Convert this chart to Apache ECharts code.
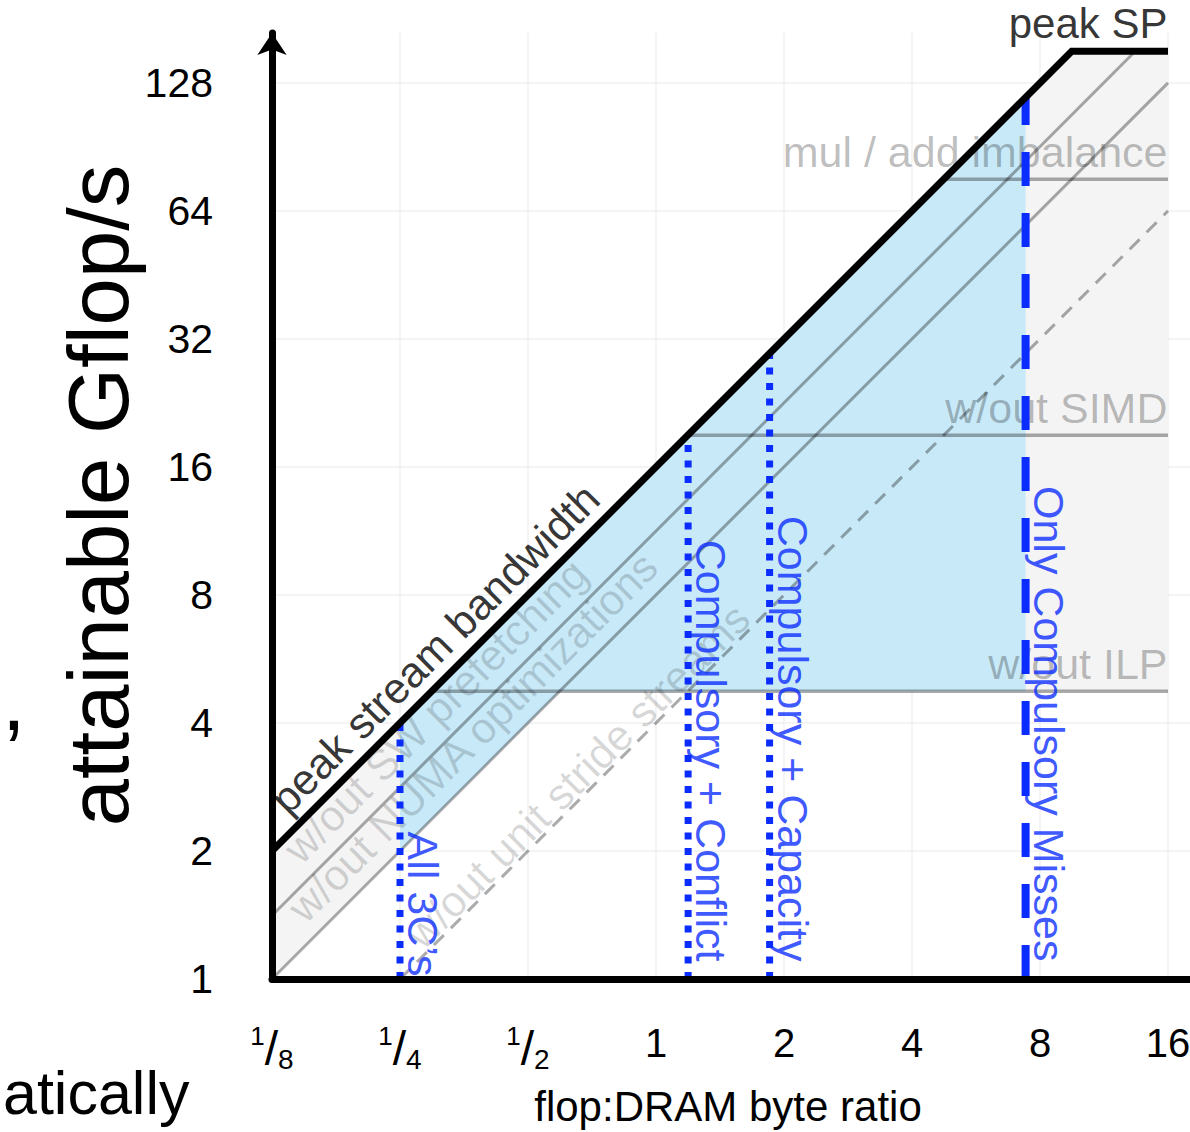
<!DOCTYPE html>
<html>
<head>
<meta charset="utf-8">
<title>Roofline with 3C ceilings</title>
<script src="https://cdn.jsdelivr.net/npm/echarts@6/dist/echarts.min.js"></script>
<style>
  html, body { margin: 0; padding: 0; background: #fff; }
  #chart { width: 1190px; height: 1132px; }
</style>
</head>
<body>
<div id="chart"></div>
<script>
// values (both axes are log2)
const xTicks = [1 / 8, 1 / 4, 1 / 2, 1, 2, 4, 8, 16];
const yTicks = [1, 2, 4, 8, 16, 32, 64, 128];

// the roof: peak stream bandwidth, then peak SP
const roofX = [0.125, 9.5, 16];
const roofY = [2, 152, 152];

// in-core ceilings (horizontal)
const ceilNames = ['mul / add imbalance', 'w/out SIMD', 'w/out ILP'];
const ceilStartX = [4.75, 1.19, 0.297];
const ceilY = [76, 19, 4.75];

// bandwidth ceilings (diagonal)
const bwNames = ['w/out SW prefetching', 'w/out NUMA optimizations', 'w/out unit stride streams'];
const bwStartX = [0.125, 0.125, 0.25];
const bwStartY = [1.41, 1, 1];
const bwEndX = [13.4, 16, 16];
const bwEndY = [152, 128, 64];

// arithmetic intensity once each kind of miss is counted
const missNames = ['All 3C\u2019s', 'Compulsory + Conflict', 'Compulsory + Capacity', 'Only Compulsory Misses'];
const missX = [0.25, 1.19, 1.85, 7.4];
const missTop = [4, 19, 29.6, 118];

// shaded regions
const grayX = [0.125, 9.5, 16, 16, 0.594, 0.125];
const grayY = [2, 152, 152, 4.75, 4.75, 1];
const blueX = [0.25, 7.4, 7.4, 0.594, 0.25];
const blueY = [4, 118, 4.75, 4.75, 2];

const FONT = '"Liberation Sans", Arial, Helvetica, sans-serif';
const BLUE = '#0a2cff';
const CEIL = 'rgba(0,0,0,0.33)';
const FAINT = 'rgba(0,0,0,0.19)';

// visible extent of the axes (arrow tip / right edge of the page)
const xMin = 0.125, xMax = Math.pow(2, 4.25);
const yMin = 1, yMax = Math.pow(2, 7.39);

function isTick(v, list) {
    const k = Math.log2(v);
    const r = Math.round(k);
    return Math.abs(k - r) < 1e-6 && list.indexOf(Math.pow(2, r)) >= 0;
}

function xLabel(v) {
    if (!isTick(v, xTicks)) return '';
    const r = Math.round(Math.log2(v));
    if (r < 0) return '{n|1}{s|/}{d|' + Math.pow(2, -r) + '}';
    return String(Math.pow(2, r));
}

function yLabel(v) {
    if (!isTick(v, yTicks)) return '';
    return String(Math.round(v));
}

function pairs(xs, ys) {
    return xs.map(function (x, i) { return [x, ys[i]]; });
}

function region(xs, ys, color) {
    const pts = pairs(xs, ys);
    return {
        type: 'custom',
        data: pts,
        encode: { x: 0, y: 1 },
        z: 1,
        silent: true,
        renderItem: function (params, api) {
            if (params.dataIndex !== 0) return null;
            return {
                type: 'polygon',
                shape: { points: pts.map(function (p) { return api.coord(p); }) },
                style: { fill: color }
            };
        }
    };
}

function line(data, style, z) {
    return {
        type: 'line',
        data: data,
        symbol: 'none',
        silent: true,
        z: z,
        lineStyle: style
    };
}

function notes(items, label, z) {
    return {
        type: 'scatter',
        data: items,
        symbolSize: 1,
        itemStyle: { color: 'rgba(0,0,0,0)' },
        silent: true,
        z: z,
        label: Object.assign({ show: true, formatter: '{b}', position: [0, 0], fontFamily: FONT }, label)
    };
}

const series = [];

series.push(region(grayX, grayY, '#f4f4f4'));
series.push(region(blueX, blueY, '#c8e9f8'));

// ceilings
ceilNames.forEach(function (name, i) {
    series.push(line([[ceilStartX[i], ceilY[i]], [16, ceilY[i]]], { color: CEIL, width: 3.5 }, 3));
});
bwNames.forEach(function (name, i) {
    series.push(line([[bwStartX[i], bwStartY[i]], [bwEndX[i], bwEndY[i]]],
        { color: CEIL, width: 3, type: i === 2 ? [14, 10] : 'solid' }, 3));
});

// ceiling labels
series.push(notes(ceilNames.map(function (name, i) {
    return { name: name, value: [16, ceilY[i]] };
}), { color: CEIL, fontSize: 43, align: 'right', verticalAlign: 'bottom', offset: [0, -5] }, 4));

const bwOffsets = [[56, -7], [62, -7], [36, 4]];
series.push(notes(bwNames.map(function (name, i) {
    return { name: name, value: [bwStartX[i], bwStartY[i]], label: { offset: bwOffsets[i] } };
}), { color: FAINT, fontSize: 43, rotate: 45, align: 'left', verticalAlign: 'bottom' }, 4));

// miss lines
missNames.forEach(function (name, i) {
    const dash = i === 3 ? [34, 27] : [7, 8.5];
    series.push(line([[missX[i], yMin], [missX[i], missTop[i]]],
        { color: BLUE, width: i === 3 ? 8 : 7, type: dash, cap: 'butt' }, 6));
});
series.push(notes(missNames.map(function (name, i) {
    return { name: name, value: [missX[i], yMin], label: { offset: [i === 0 ? -2 : -17, -2] } };
}), { color: BLUE, fontSize: 43, rotate: -90, align: 'right', verticalAlign: 'bottom' }, 7));

// the roof on top
series.push(line(pairs(roofX, roofY), { color: '#000', width: 7, join: 'miter' }, 8));
series.push(notes([
    { name: 'peak stream bandwidth', value: [roofX[0], roofY[0]],
      label: { rotate: 45, align: 'left', fontSize: 43, offset: [36, -6] } },
    { name: 'peak SP', value: [roofX[2], roofY[2]],
      label: { align: 'right', offset: [0, -6] } }
], { color: '#000', fontSize: 42, verticalAlign: 'bottom' }, 9));

const chart = echarts.init(document.getElementById('chart'), null, { renderer: 'svg' });

chart.setOption({
    animation: false,
    backgroundColor: '#fff',
    textStyle: { fontFamily: FONT },
    grid: { left: 272, right: -10, top: 33, bottom: 153, containLabel: false, outerBoundsMode: 'none' },
    xAxis: [{
        type: 'log', logBase: 2, min: xMin, max: xMax, interval: 1,
        position: 'bottom', z: 10,
        name: 'flop:DRAM byte ratio', nameLocation: 'middle', nameGap: 106, nameMoveOverlap: false,
        nameTextStyle: { color: '#000', fontSize: 42, padding: [0, 16, 0, 0] },
        axisLine: { onZero: false, lineStyle: { color: '#000', width: 7 } },
        axisTick: { show: false },
        splitLine: { show: false },
        axisLabel: {
            margin: 44, color: '#000', fontSize: 40, showMaxLabel: false,
            formatter: xLabel,
            rich: {
                n: { fontSize: 26, lineHeight: 26, verticalAlign: 'top', color: '#000' },
                s: { fontSize: 48, lineHeight: 50, verticalAlign: 'middle', color: '#000' },
                d: { fontSize: 28, lineHeight: 28, verticalAlign: 'bottom', color: '#000' }
            }
        }
    }, {
        type: 'log', logBase: 2, min: xMin, max: xMax, interval: 1,
        position: 'bottom', z: 0,
        axisLine: { show: false }, axisTick: { show: false }, axisLabel: { show: false },
        splitLine: { show: true, showMinLine: false, showMaxLine: false, lineStyle: { color: '#f0f0f0', width: 1.5 } }
    }],
    yAxis: [{
        type: 'log', logBase: 2, min: yMin, max: yMax, interval: 1,
        position: 'left', z: 10,
        name: 'attainable Gflop/s', nameLocation: 'middle', nameGap: 131, nameMoveOverlap: false,
        nameTextStyle: { color: '#000', fontSize: 85, padding: [0, 0, 0, 21] },
        axisLine: { onZero: false, symbol: ['none', 'arrow'], symbolSize: [22, 22], lineStyle: { color: '#000', width: 7 } },
        axisTick: { show: false },
        splitLine: { show: false },
        axisLabel: { margin: 59, color: '#000', fontSize: 41, showMaxLabel: false, formatter: yLabel }
    }, {
        type: 'log', logBase: 2, min: yMin, max: yMax, interval: 1,
        position: 'left', z: 0,
        axisLine: { show: false }, axisTick: { show: false }, axisLabel: { show: false },
        splitLine: { show: true, showMinLine: false, showMaxLine: false, lineStyle: { color: '#f0f0f0', width: 1.5 } }
    }],
    // pieces of the surrounding slide text that fall inside the crop
    graphic: [
        { type: 'text', x: 2, y: 700, silent: true,
          style: { text: ',', font: '85px ' + FONT, fill: '#000', verticalAlign: 'middle' } },
        { type: 'text', x: 3, y: 1093, silent: true,
          style: { text: 'atically', font: '61px ' + FONT, fill: '#000', verticalAlign: 'middle' } }
    ],
    series: series
});
</script>
</body>
</html>
